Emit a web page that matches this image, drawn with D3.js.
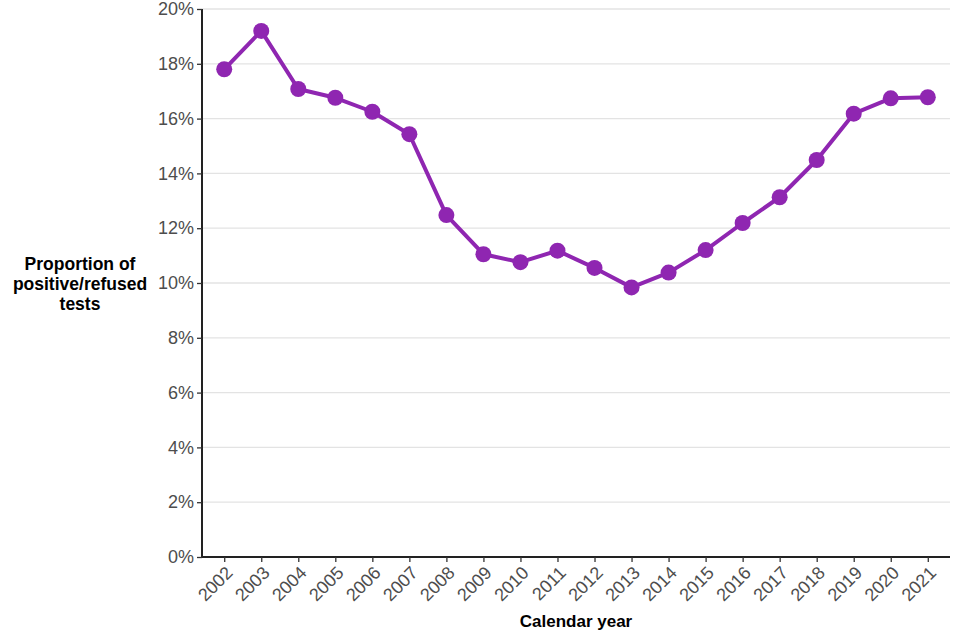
<!DOCTYPE html>
<html><head><meta charset="utf-8">
<script src="https://cdn.jsdelivr.net/npm/d3@7"></script>
<style>
body{margin:0;background:#fff;}
svg{display:block;font-family:"Liberation Sans",Arial,sans-serif;}
</style></head>
<body>
<svg id="chart" width="960" height="640"></svg>
<script>
const years = ["2002","2003","2004","2005","2006","2007","2008","2009","2010","2011","2012","2013","2014","2015","2016","2017","2018","2019","2020","2021"];
const values = [17.8,19.2,17.08,16.76,16.25,15.43,12.48,11.05,10.76,11.18,10.55,9.84,10.38,11.2,12.19,13.13,14.49,16.18,16.74,16.78];
const yTicks = [0,2,4,6,8,10,12,14,16,18,20];
const color = "#8f26b1";

const svg = d3.select("#chart");
const m = {left:202, right:950, top:9, bottom:557};
const x = d3.scalePoint().domain(years).range([m.left, m.right]).padding(0.6);
const y = d3.scaleLinear().domain([0,20]).range([m.bottom, m.top]);

// gridlines
svg.append("g").selectAll("line").data(yTicks).join("line")
  .attr("x1", m.left).attr("x2", m.right)
  .attr("y1", d=>y(d)).attr("y2", d=>y(d))
  .attr("stroke", "#e3e3e3").attr("stroke-width", 1.3);

// y axis
const ya = svg.append("g").attr("transform", `translate(${m.left},0)`)
  .call(d3.axisLeft(y).tickValues(yTicks).tickFormat(d=>d+"%").tickSize(5).tickPadding(3));
ya.select(".domain").attr("stroke","#222").attr("stroke-width",2).attr("d", `M0,${m.top}V${m.bottom}`);
ya.selectAll(".tick line").attr("stroke","#333").attr("stroke-width",1.3);
ya.selectAll(".tick text").attr("fill","#4d4d4d").style("font-size","18px");

// x axis
const xa = svg.append("g").attr("transform", `translate(0,${m.bottom})`)
  .call(d3.axisBottom(x).tickSize(5).tickPadding(3));
xa.select(".domain").attr("stroke","#222").attr("stroke-width",2).attr("d", `M${m.left},0H${m.right}`);
xa.selectAll(".tick line").attr("stroke","#333").attr("stroke-width",1.3);
xa.selectAll(".tick text").attr("fill","#4d4d4d").style("font-size","18px")
  .attr("text-anchor","end").attr("x",0).attr("y",0).attr("dy",null)
  .attr("transform","translate(9,17) rotate(-45)");

// line
svg.append("path").datum(values)
  .attr("fill","none").attr("stroke",color).attr("stroke-width",4)
  .attr("stroke-linejoin","round")
  .attr("d", d3.line().x((d,i)=>x(years[i])).y(d=>y(d)));

svg.append("g").selectAll("circle").data(values).join("circle")
  .attr("cx",(d,i)=>x(years[i])).attr("cy",d=>y(d)).attr("r",8).attr("fill",color);

// axis titles
svg.append("text").attr("x",576).attr("y",627).attr("text-anchor","middle")
  .style("font-size","17px").style("font-weight","bold").attr("fill","#000").text("Calendar year");
const yt = svg.append("text").attr("text-anchor","middle").style("font-size","17.5px").style("font-weight","bold").attr("fill","#000");
["Proportion of","positive/refused","tests"].forEach((t,i)=>{
  yt.append("tspan").attr("x",80).attr("y",270+i*20).text(t);
});
</script>
</body></html>
